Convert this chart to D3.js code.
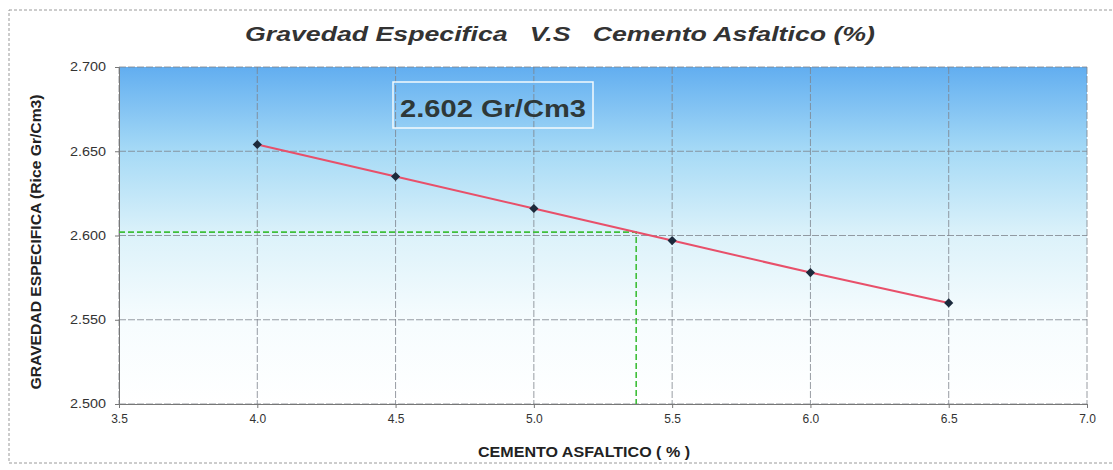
<!DOCTYPE html>
<html>
<head>
<meta charset="utf-8">
<script src="https://cdn.jsdelivr.net/npm/d3@7"></script>
<style>
  body { margin: 0; background: #fff; }
  svg { display: block; font-family: Arial, "Liberation Sans", sans-serif; }
</style>
</head>
<body>
<svg id="chart" width="1113" height="470"></svg>
<script>
// data
const asphalt = [4.0, 4.5, 5.0, 5.5, 6.0, 6.5]; // % cemento asfaltico
const gravity = [2.654, 2.635, 2.616, 2.597, 2.578, 2.560]; // rice Gr/Cm3
const xTicks = [3.5, 4.0, 4.5, 5.0, 5.5, 6.0, 6.5, 7.0];
const yTicks = [2.5, 2.55, 2.6, 2.65, 2.7];
const targetGravity = 2.602;
const targetAsphalt = 5.37;
const labelText = "2.602 Gr/Cm3";

var svg = d3.select("#chart");
const pLeft = 119, pRight = 1087, pTop = 67, pBottom = 404; // plot area

var x = d3.scaleLinear().domain([3.5, 7.0]).range([pLeft, pRight]);
var y = d3.scaleLinear().domain([2.5, 2.7]).range([pBottom, pTop]);

// outer dashed frame
svg.append("rect")
  .attr("x", 9).attr("y", 10).attr("width", 1120).attr("height", 453)
  .attr("fill", "none").attr("stroke", "#9a9a9a")
  .attr("stroke-width", 1).attr("stroke-dasharray", "3,2");

// background gradient of plot area
var grad = svg.append("defs").append("linearGradient")
  .attr("id", "bg").attr("x1", 0).attr("y1", 0).attr("x2", 0).attr("y2", 1);
grad.append("stop").attr("offset", "0%").attr("stop-color", "#62aef0");
grad.append("stop").attr("offset", "25%").attr("stop-color", "#a6daf6");
grad.append("stop").attr("offset", "50%").attr("stop-color", "#dcf2fa");
grad.append("stop").attr("offset", "75%").attr("stop-color", "#f6fcfe");
grad.append("stop").attr("offset", "100%").attr("stop-color", "#ffffff");

svg.append("rect")
  .attr("x", pLeft).attr("y", pTop)
  .attr("width", pRight - pLeft).attr("height", pBottom - pTop)
  .attr("fill", "url(#bg)");

// gridlines
svg.append("g").selectAll("line").data(xTicks).join("line")
  .attr("x1", d => x(d)).attr("x2", d => x(d))
  .attr("y1", pTop).attr("y2", pBottom)
  .attr("stroke", "#7d838b").attr("stroke-width", 0.8)
  .attr("stroke-dasharray", "7,2");
svg.append("g").selectAll("line").data(yTicks).join("line")
  .attr("x1", pLeft).attr("x2", pRight)
  .attr("y1", d => y(d)).attr("y2", d => y(d))
  .attr("stroke", "#7d838b").attr("stroke-width", 0.8)
  .attr("stroke-dasharray", "7,2");

// axes
var xAxis = svg.append("g")
  .attr("transform", "translate(0," + pBottom + ")")
  .call(d3.axisBottom(x).tickValues(xTicks).tickSize(4).tickFormat(d3.format(".1f")));
var yAxis = svg.append("g")
  .attr("transform", "translate(" + pLeft + ",0)")
  .call(d3.axisLeft(y).tickValues(yTicks).tickSize(4).tickFormat(d3.format(".3f")));
[xAxis, yAxis].forEach(function (a) {
  a.select(".domain").attr("stroke", "#777");
  a.selectAll(".tick line").attr("stroke", "#777");
  a.selectAll("text").attr("font-size", "12px").attr("fill", "#333")
    .attr("font-family", "Arial, 'Liberation Sans', sans-serif");
});
xAxis.selectAll("text").attr("dy", "1.0em");
yAxis.selectAll("text").attr("dx", "-6px").attr("textLength", 36).attr("lengthAdjust", "spacingAndGlyphs");

// green dashed target lines
svg.append("path")
  .attr("d", d3.line()([[x(3.5), y(targetGravity)], [x(targetAsphalt), y(targetGravity)], [x(targetAsphalt), y(2.5)]]))
  .attr("fill", "none").attr("stroke", "#3fbf3a").attr("stroke-width", 1.6)
  .attr("stroke-dasharray", "6,3");

// red line through points
var pts = asphalt.map((d, i) => [x(d), y(gravity[i])]);
svg.append("path")
  .attr("d", d3.line()(pts))
  .attr("fill", "none").attr("stroke", "#e8506a").attr("stroke-width", 2);

// diamond markers
svg.append("g").selectAll("path").data(pts).join("path")
  .attr("d", d3.symbol().type(d3.symbolSquare).size(42))
  .attr("transform", d => "translate(" + d[0] + "," + d[1] + ") rotate(45)")
  .attr("fill", "#1c2a3c");

// annotation box
svg.append("rect")
  .attr("x", 393).attr("y", 82).attr("width", 200).attr("height", 46)
  .attr("fill", "none").attr("stroke", "#f4fafd").attr("stroke-width", 1.5);
svg.append("text")
  .attr("x", 400).attr("y", 117)
  .attr("font-size", "23px").attr("font-weight", "bold")
  .attr("fill", "#2e3838")
  .attr("textLength", 186).attr("lengthAdjust", "spacingAndGlyphs")
  .text(labelText);

// title
svg.append("text")
  .attr("x", 560).attr("y", 41).attr("text-anchor", "middle")
  .attr("font-size", "21px").attr("font-weight", "bold").attr("font-style", "italic")
  .attr("fill", "#333")
  .attr("xml:space", "preserve")
  .attr("textLength", 630).attr("lengthAdjust", "spacingAndGlyphs")
  .text("Gravedad Especifica   V.S   Cemento Asfaltico (%)");

// axis titles
svg.append("text")
  .attr("x", 584).attr("y", 457).attr("text-anchor", "middle")
  .attr("font-size", "14px").attr("font-weight", "bold").attr("fill", "#222")
  .attr("textLength", 212).attr("lengthAdjust", "spacingAndGlyphs")
  .text("CEMENTO ASFALTICO ( % )");
svg.append("text")
  .attr("transform", "translate(41,242) rotate(-90)")
  .attr("text-anchor", "middle")
  .attr("font-size", "14px").attr("font-weight", "bold").attr("fill", "#222")
  .attr("textLength", 295).attr("lengthAdjust", "spacingAndGlyphs")
  .text("GRAVEDAD ESPECIFICA (Rice Gr/Cm3)");
</script>
</body>
</html>
